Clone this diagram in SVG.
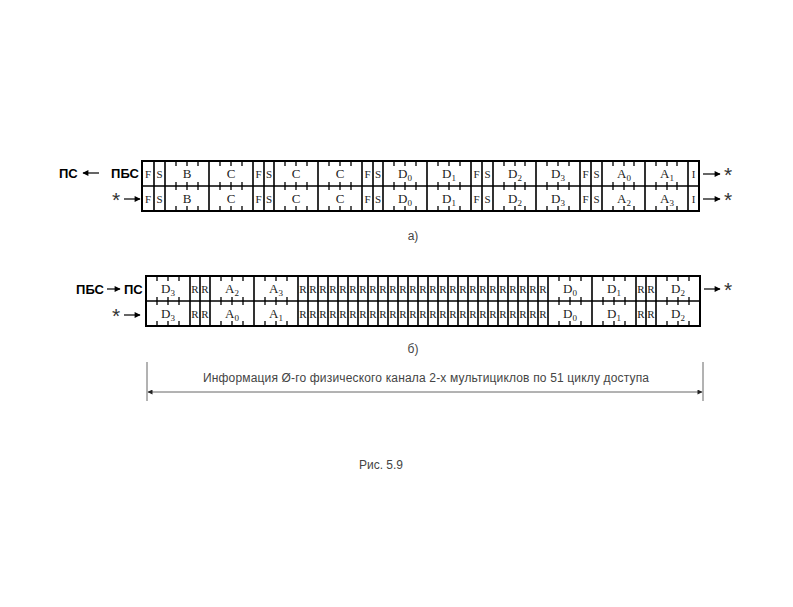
<svg xmlns="http://www.w3.org/2000/svg" width="793" height="607" viewBox="0 0 793 607">
<style>
.frame{fill:none;stroke:#000;stroke-width:2}
.div{stroke:#000;stroke-width:1.6;fill:none}
.tick{stroke:#000;stroke-width:1.3;fill:none}
.c{font-family:"Liberation Serif",serif;font-size:13px;fill:#222;text-anchor:middle}
.s{font-family:"Liberation Serif",serif;font-size:11px;fill:#222;text-anchor:middle}
.lbl{font-family:"Liberation Sans",Arial,sans-serif;font-size:13px;font-weight:bold;fill:#000}
.star{font-family:"Liberation Sans",Arial,sans-serif;font-size:21px;fill:#333;text-anchor:middle}
.cap{font-family:"Liberation Sans",Arial,sans-serif;font-size:12px;fill:#444}
.arr{stroke:#000;stroke-width:1.2;fill:none}
.dim{stroke:#666;stroke-width:1;fill:none}
</style>
<defs>
<marker id="ah" viewBox="0 0 10 10" refX="9" refY="5" markerWidth="7" markerHeight="6" orient="auto" markerUnits="userSpaceOnUse">
<path d="M0,0 L10,5 L0,10 z" fill="#000"/>
</marker>
<marker id="ahg" viewBox="0 0 10 10" refX="9" refY="5" markerWidth="8" markerHeight="5" orient="auto-start-reverse" markerUnits="userSpaceOnUse">
<path d="M0,0 L10,5 L0,10 z" fill="#222"/>
</marker>
</defs>

<g id="row-a">
<rect class="frame" x="142" y="161" width="557" height="50"/>
<path class="div" d="M142 186H699 M154 161V211 M165 161V211 M209 161V211 M253 161V211 M264 161V211 M274 161V211 M318 161V211 M362 161V211 M373 161V211 M383 161V211 M427 161V211 M471 161V211 M482 161V211 M493 161V211 M536 161V211 M580 161V211 M591 161V211 M602 161V211 M645 161V211 M688 161V211"/>
<path class="tick" d="M176 161v5M187 161v5M198 161v5M220 161v5M231 161v5M242 161v5M285 161v5M296 161v5M307 161v5M329 161v5M340 161v5M351 161v5M394 161v5M405 161v5M416 161v5M438 161v5M449 161v5M460 161v5M504 161v5M515 161v5M525 161v5M547 161v5M558 161v5M569 161v5M613 161v5M624 161v5M634 161v5M656 161v5M667 161v5M677 161v5
M176 182v8M187 182v8M198 182v8M220 182v8M231 182v8M242 182v8M285 182v8M296 182v8M307 182v8M329 182v8M340 182v8M351 182v8M394 182v8M405 182v8M416 182v8M438 182v8M449 182v8M460 182v8M504 182v8M515 182v8M525 182v8M547 182v8M558 182v8M569 182v8M613 182v8M624 182v8M634 182v8M656 182v8M667 182v8M677 182v8
M176 211v-5M187 211v-5M198 211v-5M220 211v-5M231 211v-5M242 211v-5M285 211v-5M296 211v-5M307 211v-5M329 211v-5M340 211v-5M351 211v-5M394 211v-5M405 211v-5M416 211v-5M438 211v-5M449 211v-5M460 211v-5M504 211v-5M515 211v-5M525 211v-5M547 211v-5M558 211v-5M569 211v-5M613 211v-5M624 211v-5M634 211v-5M656 211v-5M667 211v-5M677 211v-5"/>
<g id="row-a-top">
<text class="s" x="148" y="177.5">F</text><text class="s" x="159.5" y="177.5">S</text>
<text class="c" x="187" y="178">B</text><text class="c" x="231" y="178">C</text>
<text class="s" x="258.5" y="177.5">F</text><text class="s" x="269" y="177.5">S</text>
<text class="c" x="296" y="178">C</text><text class="c" x="340" y="178">C</text>
<text class="s" x="367.5" y="177.5">F</text><text class="s" x="378" y="177.5">S</text>
<text class="c" x="405" y="178">D<tspan font-size="9" dy="3">0</tspan></text>
<text class="c" x="449" y="178">D<tspan font-size="9" dy="3">1</tspan></text>
<text class="s" x="476.5" y="177.5">F</text><text class="s" x="487.5" y="177.5">S</text>
<text class="c" x="515" y="178">D<tspan font-size="9" dy="3">2</tspan></text>
<text class="c" x="558" y="178">D<tspan font-size="9" dy="3">3</tspan></text>
<text class="s" x="585.5" y="177.5">F</text><text class="s" x="596.5" y="177.5">S</text>
<text class="c" x="624" y="178">A<tspan font-size="9" dy="3">0</tspan></text>
<text class="c" x="667" y="178">A<tspan font-size="9" dy="3">1</tspan></text>
<text class="s" x="693.5" y="177.5">I</text>
</g>
<g id="row-a-bottom">
<text class="s" x="148" y="202.5">F</text><text class="s" x="159.5" y="202.5">S</text>
<text class="c" x="187" y="203">B</text><text class="c" x="231" y="203">C</text>
<text class="s" x="258.5" y="202.5">F</text><text class="s" x="269" y="202.5">S</text>
<text class="c" x="296" y="203">C</text><text class="c" x="340" y="203">C</text>
<text class="s" x="367.5" y="202.5">F</text><text class="s" x="378" y="202.5">S</text>
<text class="c" x="405" y="203">D<tspan font-size="9" dy="3">0</tspan></text>
<text class="c" x="449" y="203">D<tspan font-size="9" dy="3">1</tspan></text>
<text class="s" x="476.5" y="202.5">F</text><text class="s" x="487.5" y="202.5">S</text>
<text class="c" x="515" y="203">D<tspan font-size="9" dy="3">2</tspan></text>
<text class="c" x="558" y="203">D<tspan font-size="9" dy="3">3</tspan></text>
<text class="s" x="585.5" y="202.5">F</text><text class="s" x="596.5" y="202.5">S</text>
<text class="c" x="624" y="203">A<tspan font-size="9" dy="3">2</tspan></text>
<text class="c" x="667" y="203">A<tspan font-size="9" dy="3">3</tspan></text>
<text class="s" x="693.5" y="202.5">I</text>
</g>
<text class="lbl" x="59" y="178">ПС</text>
<text class="lbl" x="139" y="178" text-anchor="end">ПБС</text>
<text class="star" x="116" y="207">*</text>
<text class="star" x="728" y="182">*</text>
<text class="star" x="728" y="207">*</text>
</g>

<g id="row-b">
<rect class="frame" x="146" y="276" width="554" height="50"/>
<path class="div" d="M146 301H700 M190 276V326 M200 276V326 M210 276V326 M254 276V326 M298 276V326 M308 276V326 M318 276V326 M328 276V326 M338 276V326 M348 276V326 M358 276V326 M368 276V326 M378 276V326 M388 276V326 M398 276V326 M408 276V326 M418 276V326 M428 276V326 M438 276V326 M448 276V326 M458 276V326 M468 276V326 M478 276V326 M488 276V326 M498 276V326 M508 276V326 M518 276V326 M528 276V326 M538 276V326 M548 276V326 M592 276V326 M636 276V326 M646 276V326 M656 276V326"/>
<path class="tick" d="M157 276v5M168 276v5M179 276v5M221 276v5M232 276v5M243 276v5M265 276v5M276 276v5M287 276v5M559 276v5M570 276v5M581 276v5M603 276v5M614 276v5M625 276v5M667 276v5M678 276v5M689 276v5
M157 297v8M168 297v8M179 297v8M221 297v8M232 297v8M243 297v8M265 297v8M276 297v8M287 297v8M559 297v8M570 297v8M581 297v8M603 297v8M614 297v8M625 297v8M667 297v8M678 297v8M689 297v8
M157 326v-5M168 326v-5M179 326v-5M221 326v-5M232 326v-5M243 326v-5M265 326v-5M276 326v-5M287 326v-5M559 326v-5M570 326v-5M581 326v-5M603 326v-5M614 326v-5M625 326v-5M667 326v-5M678 326v-5M689 326v-5"/>
<g id="row-b-top">
<text class="c" x="168" y="293">D<tspan font-size="9" dy="3">3</tspan></text>
<text class="s" x="195" y="292.5">R</text><text class="s" x="205" y="292.5">R</text>
<text class="c" x="232" y="293">A<tspan font-size="9" dy="3">2</tspan></text>
<text class="c" x="276" y="293">A<tspan font-size="9" dy="3">3</tspan></text>
<text class="s" y="292.5"><tspan x="303">R</tspan><tspan x="313">R</tspan><tspan x="323">R</tspan><tspan x="333">R</tspan><tspan x="343">R</tspan><tspan x="353">R</tspan><tspan x="363">R</tspan><tspan x="373">R</tspan><tspan x="383">R</tspan><tspan x="393">R</tspan><tspan x="403">R</tspan><tspan x="413">R</tspan><tspan x="423">R</tspan><tspan x="433">R</tspan><tspan x="443">R</tspan><tspan x="453">R</tspan><tspan x="463">R</tspan><tspan x="473">R</tspan><tspan x="483">R</tspan><tspan x="493">R</tspan><tspan x="503">R</tspan><tspan x="513">R</tspan><tspan x="523">R</tspan><tspan x="533">R</tspan><tspan x="543">R</tspan></text>
<text class="c" x="570" y="293">D<tspan font-size="9" dy="3">0</tspan></text>
<text class="c" x="614" y="293">D<tspan font-size="9" dy="3">1</tspan></text>
<text class="s" x="641" y="292.5">R</text><text class="s" x="651" y="292.5">R</text>
<text class="c" x="678" y="293">D<tspan font-size="9" dy="3">2</tspan></text>
</g>
<g id="row-b-bottom">
<text class="c" x="168" y="318">D<tspan font-size="9" dy="3">3</tspan></text>
<text class="s" x="195" y="317.5">R</text><text class="s" x="205" y="317.5">R</text>
<text class="c" x="232" y="318">A<tspan font-size="9" dy="3">0</tspan></text>
<text class="c" x="276" y="318">A<tspan font-size="9" dy="3">1</tspan></text>
<text class="s" y="317.5"><tspan x="303">R</tspan><tspan x="313">R</tspan><tspan x="323">R</tspan><tspan x="333">R</tspan><tspan x="343">R</tspan><tspan x="353">R</tspan><tspan x="363">R</tspan><tspan x="373">R</tspan><tspan x="383">R</tspan><tspan x="393">R</tspan><tspan x="403">R</tspan><tspan x="413">R</tspan><tspan x="423">R</tspan><tspan x="433">R</tspan><tspan x="443">R</tspan><tspan x="453">R</tspan><tspan x="463">R</tspan><tspan x="473">R</tspan><tspan x="483">R</tspan><tspan x="493">R</tspan><tspan x="503">R</tspan><tspan x="513">R</tspan><tspan x="523">R</tspan><tspan x="533">R</tspan><tspan x="543">R</tspan></text>
<text class="c" x="570" y="318">D<tspan font-size="9" dy="3">0</tspan></text>
<text class="c" x="614" y="318">D<tspan font-size="9" dy="3">1</tspan></text>
<text class="s" x="641" y="317.5">R</text><text class="s" x="651" y="317.5">R</text>
<text class="c" x="678" y="318">D<tspan font-size="9" dy="3">2</tspan></text>
</g>
<text class="lbl" x="104" y="294" text-anchor="end">ПБС</text>
<text class="lbl" x="124" y="294" font-size="12">ПС</text>
<text class="star" x="116" y="323">*</text>
<text class="star" x="728" y="297">*</text>
</g>

<g id="connectors">
<line class="arr" x1="99" y1="173" x2="83" y2="173" marker-end="url(#ah)"/>
<line class="arr" x1="124" y1="199" x2="140" y2="199" marker-end="url(#ah)"/>
<line class="arr" x1="703" y1="174" x2="720" y2="174" marker-end="url(#ah)"/>
<line class="arr" x1="703" y1="199" x2="720" y2="199" marker-end="url(#ah)"/>
<line class="arr" x1="107" y1="289" x2="120" y2="289" marker-end="url(#ah)"/>
<line class="arr" x1="124" y1="315" x2="140" y2="315" marker-end="url(#ah)"/>
<line class="arr" x1="704" y1="289" x2="720" y2="289" marker-end="url(#ah)"/>
</g>

<g id="dimension">
<line class="dim" x1="147" y1="362" x2="147" y2="401"/>
<line class="dim" x1="703" y1="362" x2="703" y2="401"/>
<line class="dim" x1="148" y1="392" x2="702" y2="392" marker-start="url(#ahg)" marker-end="url(#ahg)"/>
<text class="cap" x="426" y="382" text-anchor="middle" textLength="446" lengthAdjust="spacing">Информация Ø-го физического канала 2-х мультициклов по 51 циклу доступа</text>
</g>

<text class="cap" x="413" y="240" text-anchor="middle">а)</text>
<text class="cap" x="413" y="353" text-anchor="middle">б)</text>
<text class="cap" x="381" y="469" text-anchor="middle">Рис. 5.9</text>
</svg>
